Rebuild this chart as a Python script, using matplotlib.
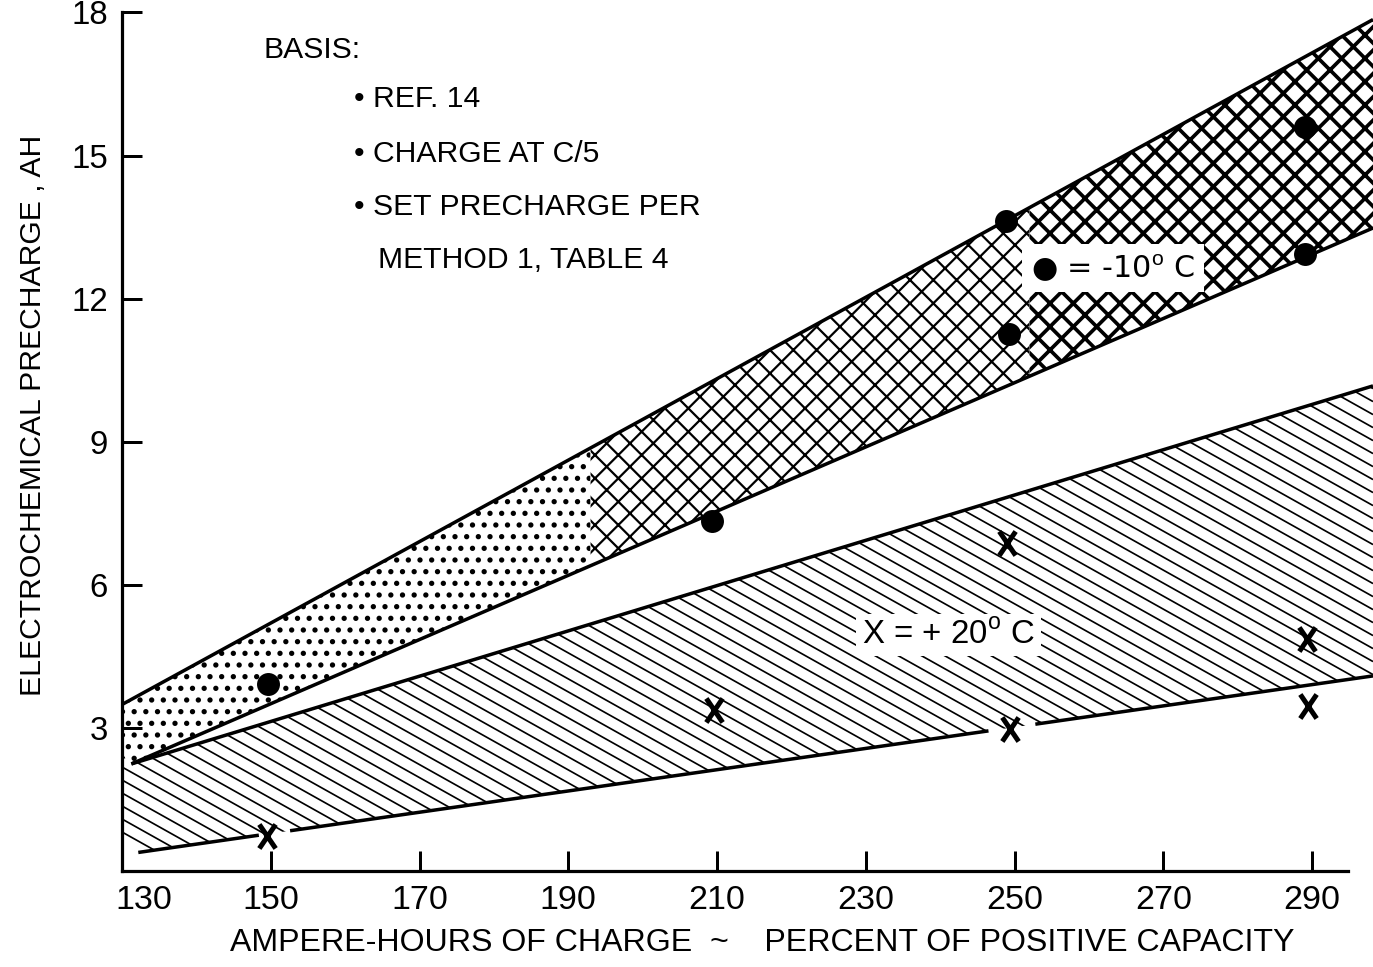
import numpy as np
import matplotlib.pyplot as plt
from matplotlib.collections import LineCollection
from matplotlib.path import Path
from matplotlib.transforms import ScaledTranslation

plt.rcParams['font.family'] = ['Liberation Sans', 'DejaVu Sans']
plt.rcParams['mathtext.fontset'] = 'custom'
plt.rcParams['mathtext.rm'] = 'Liberation Sans'
plt.rcParams['mathtext.bf'] = 'Liberation Sans:bold'
plt.rcParams['hatch.linewidth'] = 1.0

DPI = 140
W, H = 1373, 967


def pt(px):
    # pixel size -> points at the output dpi
    return px * 72 / DPI


# test points, -10 C (dots) and +20 C (crosses)
cold_x = [149.6, 209.3, 248.9, 249.3, 289.0, 289.0]
cold_y = [3.91, 7.33, 13.62, 11.25, 15.59, 12.94]
warm_x = [149.5, 209.6, 249.0, 249.4, 289.3, 289.4]
warm_y = [0.73, 3.38, 6.88, 2.97, 4.86, 3.46]

# band edges
cold_top_x = [130, 298.2]
cold_top_y = [3.49, 17.85]
cold_bot_x = [130, 131.26, 298.2]
cold_bot_y = [2.40, 2.245, 13.48]
warm_top_x = [130, 131.26, 298.2]
warm_top_y = [2.30, 2.245, 10.17]
warm_bot_x = [130, 132.19, 298.2]
warm_bot_y = [0.60, 0.389, 4.09]
warm_bot_gaps = [(148.4, 152.6), (246.5, 252.8)]

xticks = [130, 150, 170, 190, 210, 230, 250, 270, 290]
yticks = [3, 6, 9, 12, 15, 18]

basis_lines = ['BASIS:', '\u2022 REF. 14', '\u2022 CHARGE AT C/5',
               '\u2022 SET PRECHARGE PER', 'METHOD 1, TABLE 4']

# narrow typed-looking "X" marker
cross = Path([(-0.34, -0.5), (0.34, 0.5), (-0.34, 0.5), (0.34, -0.5)],
             [Path.MOVETO, Path.LINETO, Path.MOVETO, Path.LINETO])

fig = plt.figure(figsize=(W / DPI, H / DPI), dpi=DPI)
x0, y0 = 122, 871
ax = fig.add_axes([x0 / W, 1 - y0 / H, 1 - x0 / W, y0 / H])
ax.set_xlim(130, 298.2)
ax.set_ylim(0, 18.26)


def grid_between(lo, hi, *xs_lists):
    pts = [lo, hi]
    for xs in xs_lists:
        pts += [v for v in xs if lo < v < hi]
    return np.unique(pts)


# -10 C band: light dots on the left, denser cross-hatch to the right
zones = [(130, 193, '..', 1.5), (193, 252, 'xx', 1.15), (252, 298.2, 'xx', 1.9)]
for lo, hi, hatch, hlw in zones:
    xs = grid_between(lo, hi, cold_top_x, cold_bot_x)
    top = np.interp(xs, cold_top_x, cold_top_y)
    bot = np.interp(xs, cold_bot_x, cold_bot_y)
    pc = ax.fill_between(xs, bot, top, facecolor='white', edgecolor='black',
                         linewidth=0, hatch=hatch, zorder=1)
    if hasattr(pc, 'set_hatch_linewidth'):
        pc.set_hatch_linewidth(hlw)

# +20 C band: shallow diagonal hatching
xs = grid_between(130, 298.2, warm_top_x, warm_bot_x)
top = np.interp(xs, warm_top_x, warm_top_y)
bot = np.interp(xs, warm_bot_x, warm_bot_y)
band = ax.fill_between(xs, bot, top, facecolor='white', edgecolor='none',
                       linewidth=0, zorder=1)
sx = ax.bbox.width / (298.2 - 130)
sy = ax.bbox.height / 18.26
slope = -0.56 * sx / sy
step = 13 / sy
segs = [[(130, c), (298.2, c + slope * (298.2 - 130))]
        for c in np.arange(0, 26, step)]
hatch = LineCollection(segs, colors='black', linewidths=pt(1.7), zorder=1.5)
hatch.set_clip_path(band.get_paths()[0], ax.transData)
ax.add_collection(hatch)

# band outlines
edge = dict(color='black', lw=pt(3.5), solid_capstyle='butt', zorder=2)
ax.plot(cold_top_x, cold_top_y, **edge)
ax.plot(cold_bot_x[1:], cold_bot_y[1:], **edge)
ax.plot(warm_top_x[1:], warm_top_y[1:], **edge)
start = warm_bot_x[1]
for g0, g1 in warm_bot_gaps + [(298.2, None)]:
    seg_x = grid_between(start, g0, warm_bot_x)
    ax.plot(seg_x, np.interp(seg_x, warm_bot_x, warm_bot_y), **edge)
    start = g1

ax.plot(cold_x, cold_y, linestyle='none', marker='o', color='black',
        ms=pt(21), zorder=3)
ax.plot(warm_x, warm_y, linestyle='none', marker=cross, color='black',
        ms=pt(24), mew=pt(5), zorder=3)

# axes
for side in ('top', 'right'):
    ax.spines[side].set_visible(False)
ax.spines['left'].set_bounds(0, 18)
ax.spines['bottom'].set_bounds(130, 294.8)
for side in ('left', 'bottom'):
    ax.spines[side].set_linewidth(pt(3.2))

ax.set_xticks(xticks)
ax.set_yticks(yticks)
ax.tick_params(axis='both', direction='in', length=pt(20), width=pt(3))
ax.tick_params(axis='x', labelsize=17.5, pad=pt(14))
ax.tick_params(axis='y', labelsize=17, pad=pt(14))
first = ax.xaxis.get_major_ticks()[0]
first.tick1line.set_visible(False)
first.label1.set_transform(first.label1.get_transform()
                           + ScaledTranslation(22 / DPI, 0, fig.dpi_scale_trans))

ax.set_ylabel('ELECTROCHEMICAL PRECHARGE , AH', fontsize=15.5)
ax.yaxis.set_label_coords((47 - x0) / (W - x0), (y0 - 415) / y0)
ax.set_xlabel('AMPERE-HOURS OF CHARGE  ~    PERCENT OF POSITIVE CAPACITY',
              fontsize=16.5)
ax.xaxis.set_label_coords((762 - x0) / (W - x0), (y0 - 928) / y0)


def at(px, py):
    return (px - x0) / (W - x0), (y0 - py) / y0


lefts = [263, 354, 354, 354, 378]
bases = [58, 107, 162, 215, 268]
for txt, lx, by in zip(basis_lines, lefts, bases):
    ax.text(*at(lx, by), txt, transform=ax.transAxes, fontsize=15.5,
            ha='left', va='baseline')

# key labels sitting on white patches over the hatching
ax.text(*at(1031, 268), '\u25cf = -10$^{\\mathrm{o}}$ C', transform=ax.transAxes,
        fontsize=15.5, family='DejaVu Sans', ha='left', va='center', zorder=4,
        bbox=dict(facecolor='white', edgecolor='none', pad=pt(9)))
ax.text(*at(862, 635), 'X = + 20$^{\\mathrm{o}}$ C', transform=ax.transAxes,
        fontsize=17, ha='left', va='center', zorder=4,
        bbox=dict(facecolor='white', edgecolor='none', pad=pt(6)))

fig.savefig('out.png', dpi=DPI)
